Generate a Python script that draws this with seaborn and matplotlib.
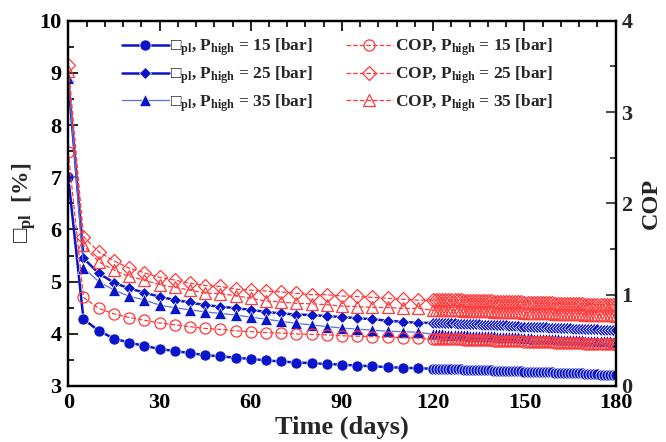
import matplotlib
matplotlib.use('Agg')
import matplotlib.pyplot as plt
import seaborn as sns
from matplotlib.ticker import MultipleLocator

# ---------------- data ----------------
days_sparse = list(range(0, 120, 5))
days_dense = list(range(120, 181))
days = days_sparse + days_dense

eta15 = [7.00, 4.28, 4.06, 3.91, 3.83, 3.77, 3.71, 3.67, 3.63, 3.59, 3.57, 3.54,
         3.52, 3.49, 3.47, 3.45, 3.44, 3.42, 3.41, 3.39, 3.38, 3.36, 3.35, 3.34,
         3.33, 3.33, 3.33, 3.33, 3.33, 3.32, 3.32, 3.32, 3.32, 3.32,
         3.31, 3.31, 3.31, 3.31, 3.31, 3.30, 3.30, 3.30, 3.30, 3.30,
         3.29, 3.29, 3.29, 3.29, 3.29, 3.28, 3.28, 3.28, 3.28, 3.28,
         3.27, 3.27, 3.27, 3.27, 3.27, 3.26, 3.26, 3.26, 3.26, 3.26,
         3.25, 3.25, 3.25, 3.25, 3.25, 3.24, 3.24, 3.24, 3.24, 3.24,
         3.23, 3.23, 3.23, 3.23, 3.23, 3.22, 3.22, 3.22, 3.22, 3.22, 3.21]

eta25 = [8.85, 5.45, 5.16, 4.98, 4.87, 4.79, 4.71, 4.65, 4.60, 4.55, 4.52, 4.49,
         4.46, 4.42, 4.39, 4.37, 4.36, 4.34, 4.32, 4.30, 4.28, 4.25, 4.23, 4.21,
         4.21, 4.21, 4.21, 4.21, 4.20, 4.20, 4.20, 4.20, 4.19, 4.19, 4.19, 4.19,
         4.18, 4.18, 4.18, 4.18, 4.17, 4.17, 4.17, 4.17, 4.17, 4.16, 4.16, 4.16, 4.16,
         4.15, 4.15, 4.15, 4.15, 4.14, 4.14, 4.14, 4.14, 4.13, 4.13, 4.13, 4.13, 4.13,
         4.12, 4.12, 4.12, 4.12, 4.11, 4.11, 4.11, 4.11, 4.10, 4.10, 4.10, 4.10,
         4.09, 4.09, 4.09, 4.09, 4.09, 4.08, 4.08, 4.08, 4.08, 4.07, 4.07]

eta35 = [8.90, 5.27, 5.00, 4.84, 4.72, 4.65, 4.55, 4.50, 4.46, 4.42, 4.39, 4.36,
         4.32, 4.28, 4.24, 4.20, 4.17, 4.14, 4.11, 4.09, 4.07, 4.05, 4.04, 4.03,
         3.99, 3.99, 3.99, 3.99, 3.98, 3.98, 3.98, 3.98, 3.97, 3.97, 3.97, 3.97,
         3.96, 3.96, 3.96, 3.96, 3.95, 3.95, 3.95, 3.95, 3.95, 3.94, 3.94, 3.94, 3.94,
         3.93, 3.93, 3.93, 3.93, 3.92, 3.92, 3.92, 3.92, 3.91, 3.91, 3.91, 3.91, 3.91,
         3.90, 3.90, 3.90, 3.90, 3.89, 3.89, 3.89, 3.89, 3.88, 3.88, 3.88, 3.88,
         3.87, 3.87, 3.87, 3.87, 3.87, 3.86, 3.86, 3.86, 3.86, 3.85, 3.85]

cop15 = [2.56, 0.97, 0.85, 0.79, 0.75, 0.72, 0.69, 0.67, 0.65, 0.63, 0.62, 0.605,
         0.595, 0.585, 0.58, 0.57, 0.565, 0.56, 0.55, 0.545, 0.54, 0.535, 0.53, 0.525,
         0.51, 0.51, 0.51, 0.51, 0.51, 0.51, 0.51, 0.51, 0.51, 0.51,
         0.50, 0.50, 0.50, 0.50, 0.50, 0.50, 0.50, 0.50, 0.50, 0.50,
         0.49, 0.49, 0.49, 0.49, 0.49, 0.49, 0.49, 0.49, 0.49, 0.49,
         0.48, 0.48, 0.48, 0.48, 0.48, 0.48, 0.48, 0.48, 0.48, 0.48,
         0.47, 0.47, 0.47, 0.47, 0.47, 0.47, 0.47, 0.47, 0.47, 0.47,
         0.46, 0.46, 0.46, 0.46, 0.46, 0.46, 0.46, 0.46, 0.46, 0.46, 0.45]

cop25 = [3.52, 1.635, 1.47, 1.37, 1.29, 1.24, 1.19, 1.16, 1.125, 1.10, 1.09, 1.06,
         1.05, 1.04, 1.03, 1.015, 1.00, 1.00, 0.985, 0.98, 0.97, 0.96, 0.95, 0.94,
         0.94, 0.94, 0.94, 0.94, 0.94, 0.94, 0.94, 0.94, 0.94, 0.94,
         0.93, 0.93, 0.93, 0.93, 0.93, 0.93, 0.93, 0.93, 0.93, 0.93,
         0.92, 0.92, 0.92, 0.92, 0.92, 0.92, 0.92, 0.92, 0.92, 0.92,
         0.91, 0.91, 0.91, 0.91, 0.91, 0.91, 0.91, 0.91, 0.91, 0.91,
         0.90, 0.90, 0.90, 0.90, 0.90, 0.90, 0.90, 0.90, 0.90, 0.90,
         0.89, 0.89, 0.89, 0.89, 0.89, 0.89, 0.89, 0.89, 0.89, 0.89, 0.88]

cop35 = [3.45, 1.54, 1.36, 1.27, 1.20, 1.16, 1.11, 1.08, 1.05, 1.02, 1.01, 0.99,
         0.96, 0.93, 0.92, 0.905, 0.90, 0.89, 0.875, 0.87, 0.86, 0.86, 0.85, 0.85,
         0.83, 0.83, 0.83, 0.83, 0.83, 0.83, 0.83, 0.83, 0.83, 0.83,
         0.82, 0.82, 0.82, 0.82, 0.82, 0.82, 0.82, 0.82, 0.82, 0.82,
         0.81, 0.81, 0.81, 0.81, 0.81, 0.81, 0.81, 0.81, 0.81, 0.81,
         0.80, 0.80, 0.80, 0.80, 0.80, 0.80, 0.80, 0.80, 0.80, 0.80,
         0.79, 0.79, 0.79, 0.79, 0.79, 0.79, 0.79, 0.79, 0.79, 0.79,
         0.78, 0.78, 0.78, 0.78, 0.78, 0.78, 0.78, 0.78, 0.78, 0.78, 0.77]

pressures = ['15', '25', '35']
eta_labels = [r'□$_{\mathbf{pl}}$, P$_{\mathbf{high}}$ = %s [bar]' % p for p in pressures]
cop_labels = [r'COP, P$_{\mathbf{high}}$ = %s [bar]' % p for p in pressures]

# ---------------- style ----------------
sns.set_theme(style='white')
plt.rcParams['font.family'] = ['Liberation Serif', 'DejaVu Serif']
plt.rcParams['font.weight'] = 'bold'
plt.rcParams['mathtext.fontset'] = 'custom'
plt.rcParams['mathtext.rm'] = 'Liberation Serif:bold'
plt.rcParams['mathtext.bf'] = 'Liberation Serif:bold'
plt.rcParams['mathtext.it'] = 'Liberation Serif:bold'

BLUE = '#0a14c8'
BLUE_LIGHT = '#5a6ee6'
RED = '#ff3a3a'

fig = plt.figure(figsize=(6.66, 4.42), dpi=100)
ax = fig.add_axes([0.1025, 0.1267, 0.822, 0.8265])
ax2 = ax.twinx()

eta_series = [eta15, eta25, eta35]
cop_series = [cop15, cop25, cop35]
eta_markers = ['o', 'D', '^']
eta_ms = [8, 6.5, 8]
eta_lw = [1.8, 1.8, 0.9]
eta_lc = [BLUE, BLUE, BLUE_LIGHT]
cop_markers = ['o', 'D', '^']
cop_ms = [8, 7, 8.5]

for vals, m, ms, lw, lc in zip(eta_series, eta_markers, eta_ms, eta_lw, eta_lc):
    sns.lineplot(x=days, y=vals, ax=ax, color=lc, linewidth=lw, marker=m,
                 markersize=ms, markerfacecolor=BLUE, markeredgecolor='white',
                 markeredgewidth=0.5, legend=False, errorbar=None)

for vals, m, ms in zip(cop_series, cop_markers, cop_ms):
    sns.lineplot(x=days, y=vals, ax=ax2, color=RED, linewidth=0.9, linestyle='--',
                 marker=m, markersize=ms, markerfacecolor='none',
                 markeredgecolor=RED, markeredgewidth=0.9, legend=False,
                 errorbar=None)

ax.set_xlim(0, 180)
ax.set_ylim(3, 10)
ax2.set_ylim(0, 4)

ax.xaxis.set_major_locator(MultipleLocator(30))
ax.xaxis.set_minor_locator(MultipleLocator(6))
ax.yaxis.set_major_locator(MultipleLocator(1))
ax.yaxis.set_minor_locator(MultipleLocator(0.5))
ax2.yaxis.set_major_locator(MultipleLocator(1))
ax2.yaxis.set_minor_locator(MultipleLocator(0.5))

ax.tick_params(axis='both', which='both', direction='in', top=True, right=False,
               colors='black', labelsize=16, width=1.2)
ax.tick_params(which='major', length=7, pad=5)
ax.tick_params(which='minor', length=4)
ax2.tick_params(axis='y', which='both', direction='in', right=True, left=False,
                labelsize=16, width=1.2, pad=4)
ax2.tick_params(which='major', length=7)
ax2.tick_params(which='minor', length=4)

for a in (ax, ax2):
    for s in a.spines.values():
        s.set_color('black')
        s.set_linewidth(1.6)
    for lab in a.get_xticklabels() + a.get_yticklabels():
        lab.set_fontweight('bold')

ax.set_xlabel('Time (days)', fontsize=19, fontweight='bold', labelpad=2)
ax.set_ylabel(r'□$_{\mathbf{pl}}$  [%]', fontsize=17, fontweight='bold', labelpad=1)
ax2.set_ylabel('COP', fontsize=17.5, fontweight='bold', labelpad=6)

handles = ax.get_lines()[:3] + ax2.get_lines()[:3]
labels = eta_labels + cop_labels
ax2.legend(handles, labels, ncol=2, loc='upper left',
           bbox_to_anchor=(0.085, 0.975), frameon=False, fontsize=12.5,
           handlelength=2.7, handletextpad=0.1, columnspacing=1.9,
           labelspacing=0.35, borderaxespad=0.0)

fig.savefig('out.png', dpi=100)
